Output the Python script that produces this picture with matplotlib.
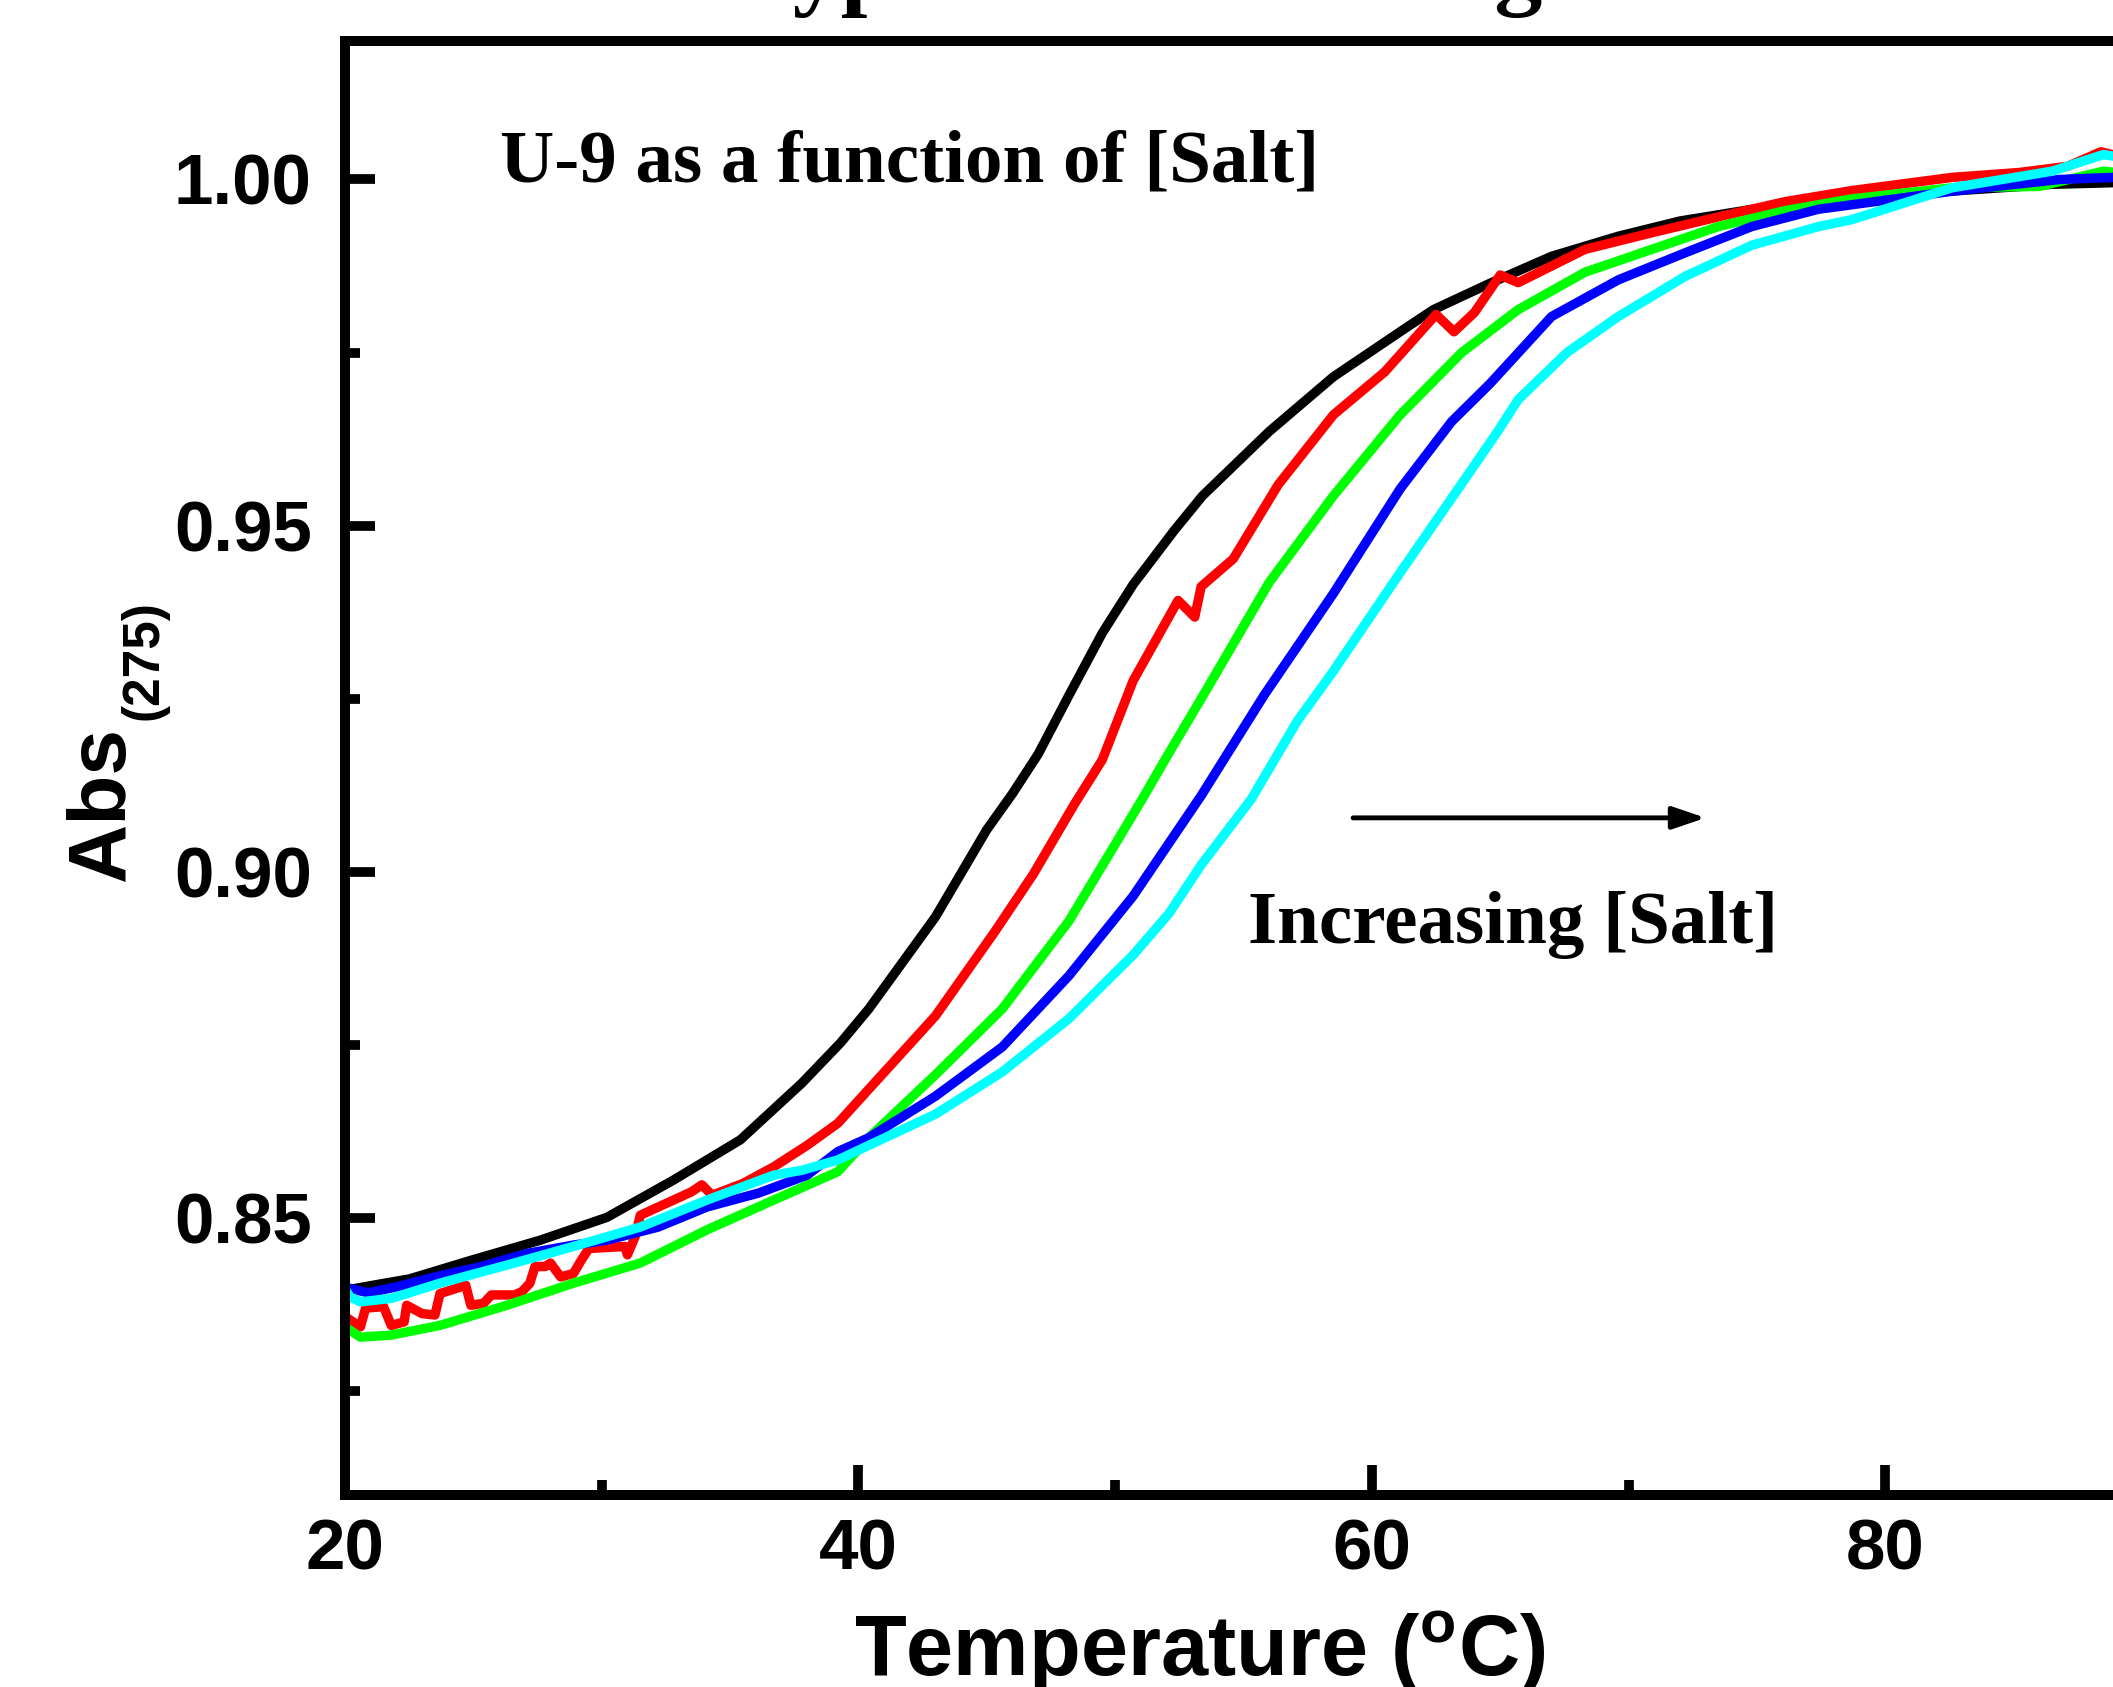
import matplotlib
matplotlib.use("Agg")
import matplotlib.pyplot as plt
from matplotlib.ticker import MultipleLocator, FormatStrFormatter

# UV melting curves of U-9, salt concentration rising black -> cyan
T_BLACK = [19.9, 21.4, 22.5, 25.0, 27.6, 30.2, 32.8, 35.4, 37.8, 39.3, 40.4, 43.0,
           45.0, 46.0, 47.0, 48.2, 49.5, 50.7, 52.3, 53.4, 56.0, 58.5, 61.3, 62.4,
           64.6, 67.0, 69.6, 72.0, 75.0, 78.5, 82.5, 86.5, 89.5]
A_BLACK = [0.8395, 0.8405, 0.8412, 0.8440, 0.8468, 0.8501, 0.8555, 0.8613, 0.8695,
           0.8753, 0.8802, 0.8935, 0.9061, 0.9113, 0.9170, 0.9255, 0.9345, 0.9415,
           0.9493, 0.9543, 0.9636, 0.9715, 0.9785, 0.9812, 0.9850, 0.9889, 0.9918,
           0.9940, 0.9958, 0.9972, 0.9983, 0.9993, 0.9996]

T_RED = [19.9, 20.6, 20.8, 21.5, 21.8, 22.3, 22.4, 23.0, 23.5, 23.7, 24.3, 24.7,
         24.9, 25.4, 25.7, 26.6, 26.9, 27.2, 27.4, 27.8, 28.0, 28.4, 28.9, 29.2,
         29.5, 30.9, 31.0, 31.3, 31.5, 32.2, 32.8, 33.5, 33.9, 34.3, 35.5, 36.7,
         38.0, 39.2, 40.4, 43.0, 45.3, 46.8, 48.4, 49.5, 50.7, 52.45, 53.1, 53.35,
         54.6, 56.35, 58.5, 60.5, 62.5, 63.2, 64.0, 65.0, 65.7, 68.3, 70.9, 73.5,
         76.1, 78.7, 82.6, 85.2, 87.1, 88.4, 89.5]
A_RED = [0.8360, 0.8343, 0.8370, 0.8372, 0.8345, 0.8350, 0.8374, 0.8362, 0.8360,
         0.8391, 0.8398, 0.8403, 0.8374, 0.8377, 0.8389, 0.8389, 0.8394, 0.8406,
         0.8430, 0.8430, 0.8435, 0.8415, 0.8420, 0.8439, 0.8456, 0.8459, 0.8447,
         0.8473, 0.8504, 0.8516, 0.8526, 0.8538, 0.8548, 0.8533, 0.8550, 0.8574,
         0.8605, 0.8637, 0.8686, 0.8792, 0.8913, 0.8996, 0.9097, 0.9162, 0.9276,
         0.9392, 0.9368, 0.9412, 0.9452, 0.9559, 0.9660, 0.9722, 0.9805, 0.9780,
         0.9808, 0.9862, 0.9851, 0.9899, 0.9923, 0.9946, 0.9968, 0.9984, 1.0003,
         1.0010, 1.0019, 1.0040, 1.0030]

T_GREEN = [19.9, 20.6, 21.8, 23.7, 26.3, 28.9, 31.5, 34.1, 36.7, 39.2, 40.4, 43.0,
           45.6, 48.2, 50.1, 51.1, 52.1, 53.35, 56.0, 58.5, 61.1, 63.5, 65.7, 68.3,
           70.9, 73.5, 76.1, 78.7, 82.6, 86.0, 88.5, 89.5]
A_GREEN = [0.8345, 0.8328, 0.8331, 0.8345, 0.8374, 0.8406, 0.8435, 0.8483, 0.8526,
           0.8567, 0.8616, 0.8707, 0.8802, 0.8929, 0.9046, 0.9108, 0.9172, 0.9250,
           0.9418, 0.9543, 0.9660, 0.9750, 0.9812, 0.9866, 0.9899, 0.9932, 0.9955,
           0.9972, 0.9988, 0.9990, 1.0012, 1.0008]

T_BLUE = [19.9, 20.9, 22.05, 23.5, 25.3, 27.1, 28.9, 30.2, 32.2, 34.1, 36.1, 38.0,
          39.2, 40.4, 43.0, 45.6, 48.2, 50.7, 53.35, 55.8, 58.5, 61.1, 63.1, 64.6,
          67.0, 69.6, 72.2, 74.8, 77.4, 80.0, 82.6, 86.8, 89.5]
A_BLUE = [0.8401, 0.8392, 0.8401, 0.8415, 0.8430, 0.8449, 0.8461, 0.8468, 0.8487,
          0.8516, 0.8536, 0.8562, 0.8596, 0.8616, 0.8676, 0.8747, 0.8850, 0.8965,
          0.9110, 0.9255, 0.9402, 0.9553, 0.9650, 0.9705, 0.9802, 0.9855, 0.9894,
          0.9932, 0.9957, 0.9970, 0.9983, 1.0000, 1.0004]

T_CYAN = [19.9, 20.2, 20.6, 21.8, 23.7, 26.3, 28.9, 31.5, 34.1, 36.7, 37.8, 39.2,
          40.4, 43.0, 45.6, 48.2, 50.7, 52.1, 53.35, 55.3, 57.1, 58.5, 61.1, 63.75,
          64.9, 65.7, 67.6, 69.6, 72.2, 74.8, 77.4, 78.7, 82.6, 86.5, 88.5, 89.5]
A_CYAN = [0.8403, 0.8386, 0.8379, 0.8384, 0.8406, 0.8432, 0.8459, 0.8487, 0.8526,
          0.8562, 0.8569, 0.8584, 0.8605, 0.8650, 0.8711, 0.8788, 0.8880, 0.8940,
          0.9010, 0.9105, 0.9218, 0.9290, 0.9432, 0.9574, 0.9636, 0.9682, 0.9750,
          0.9802, 0.9860, 0.9905, 0.9932, 0.9942, 0.9988, 1.0012, 1.0036, 1.0030]

CURVES = [(T_BLACK, A_BLACK, "#000000"), (T_RED, A_RED, "#ff0000"),
          (T_GREEN, A_GREEN, "#00ff00"), (T_BLUE, A_BLUE, "#0000ff"),
          (T_CYAN, A_CYAN, "#00ffff")]

plt.rcParams["font.family"] = ["Liberation Sans", "DejaVu Sans"]
plt.rcParams["font.weight"] = "bold"
plt.rcParams["mathtext.fontset"] = "custom"
plt.rcParams["mathtext.rm"] = "Liberation Sans:bold"
plt.rcParams["mathtext.bf"] = "Liberation Sans:bold"

fig = plt.figure(figsize=(21.13, 16.87), dpi=100)
fig.patch.set_facecolor("white")
# right edge of the frame sits just outside the picture, as in the source scan
ax = fig.add_axes([0.1633, 0.1138, 0.8504, 0.8619])

for t, a, c in CURVES:
    ax.plot(t, a, color=c, lw=6.8)

ax.set_xlim(20, 90)
ax.set_ylim(0.81, 1.02)
ax.xaxis.set_major_locator(MultipleLocator(20))
ax.xaxis.set_minor_locator(MultipleLocator(10))
ax.yaxis.set_major_locator(MultipleLocator(0.05))
ax.yaxis.set_minor_locator(MultipleLocator(0.025))
ax.yaxis.set_major_formatter(FormatStrFormatter("%.2f"))

for sp in ax.spines.values():
    sp.set_linewidth(7.2)
ax.tick_params(which="both", direction="in", top=False, right=False, width=7)
ax.tick_params(which="major", length=21.6, labelsize=51)
ax.tick_params(axis="x", which="major", pad=17)
ax.tick_params(axis="y", which="major", pad=24)
ax.tick_params(which="minor", length=10.8)

ax.set_xlabel(r"Temperature ($^{\mathrm{o}}$C)", fontsize=61, fontweight="bold")
ax.xaxis.set_label_coords(0.476, -0.1245)
ax.xaxis.label.set_va("baseline")

ax.set_ylabel("Abs", fontsize=59, fontweight="bold")
ax.yaxis.set_label_coords(-0.1233, 0.4758)
ax.yaxis.label.set_va("baseline")
ax.text(-0.1044, 0.5742, "(275)", transform=ax.transAxes, rotation=90,
        rotation_mode="anchor", ha="center", va="baseline", fontsize=37,
        fontweight="bold")

serif = ["Liberation Serif", "DejaVu Serif"]
ax.text(26.04, 0.9997, "U-9 as a function of [Salt]", family=serif,
        fontweight="bold", fontsize=54, va="baseline")
ax.text(55.18, 0.8897, "Increasing [Salt]", family=serif,
        fontweight="bold", fontsize=54, va="baseline")
ax.annotate("", xy=(73.0, 0.9078), xytext=(59.27, 0.9078),
            arrowprops=dict(arrowstyle="-|>,head_length=0.5,head_width=0.17",
                            color="black", lw=3.5, mutation_scale=40,
                            shrinkA=0, shrinkB=0))

# title is mostly cropped off the top of the source image
fig.text(0.614, 1.0012, "Typical UV Melting Curves", family=serif,
         fontweight="bold", fontsize=69, ha="center", va="baseline")

fig.savefig("out.png", dpi=100, facecolor="white")
